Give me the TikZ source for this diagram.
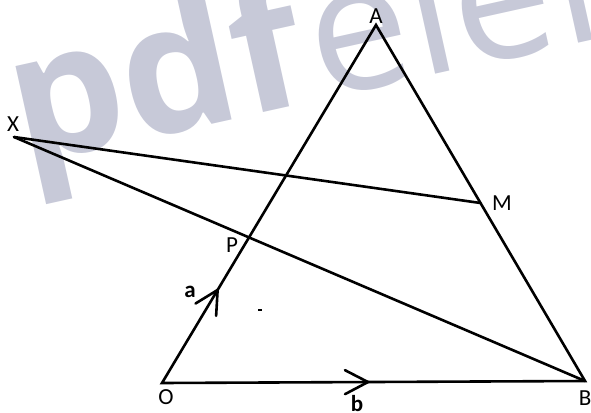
\documentclass[tikz,border=0pt]{standalone}
\usepackage{fontspec}
\setmainfont{Carlito}
\newfontfamily\wmfont{Open Sans}
\usetikzlibrary{decorations.markings,calc}
\definecolor{wmcol}{RGB}{199,201,216}
\begin{document}
\begin{tikzpicture}[x=1pt,y=-1pt,
  seg/.style={line width=2.6pt, line cap=round},
  lbl/.style={font=\fontsize{23}{23}\selectfont, inner sep=0pt},
  vlbl/.style={font=\fontsize{23}{23}\selectfont\bfseries, inner sep=0pt},
  chev/.style={decoration={markings, mark=at position #1 with {\draw[seg, line join=miter] (-23,12) -- (0,0) -- (-23,-12);}}, postaction={decorate}}]
\useasboundingbox (0,0) rectangle (591,412);
\begin{scope}
  \clip (0,0) rectangle (591,412);
  \node[anchor=base west, rotate=12.5, text=wmcol, inner sep=0pt, font=\wmfont\fontsize{180}{180}\selectfont] (wm) at (23,166) {\textbf{pdf}element};
\end{scope}
\coordinate (O) at (162,383);
\coordinate (A) at (376,25);
\coordinate (B) at (585,381);
\coordinate (X) at (14,137);
\coordinate (M) at ($(A)!0.5!(B)$);
\coordinate (P) at (248,239);
\draw[seg, line join=miter] (O) -- (A) -- (B) -- cycle;
\path[chev=0.26] (O) -- (A);
\path[chev=0.487] (O) -- (B);
\draw[seg] (X) -- (M);
\draw[seg] (X) -- (B);
\fill (258,309) rectangle (262,311);
\node[lbl] (lA) at (376,16) {A};
\node[lbl] (lX) at (13,124) {X};
\node[lbl] (lM) at (502,203) {M};
\node[lbl] (lP) at (232,245) {P};
\node[lbl] (lO) at (166,397) {O};
\node[lbl] (lB) at (585,398) {B};
\node[vlbl] (la) at (190,292) {a};
\node[vlbl] (lb) at (357,404) {b};
\end{tikzpicture}
\end{document}
